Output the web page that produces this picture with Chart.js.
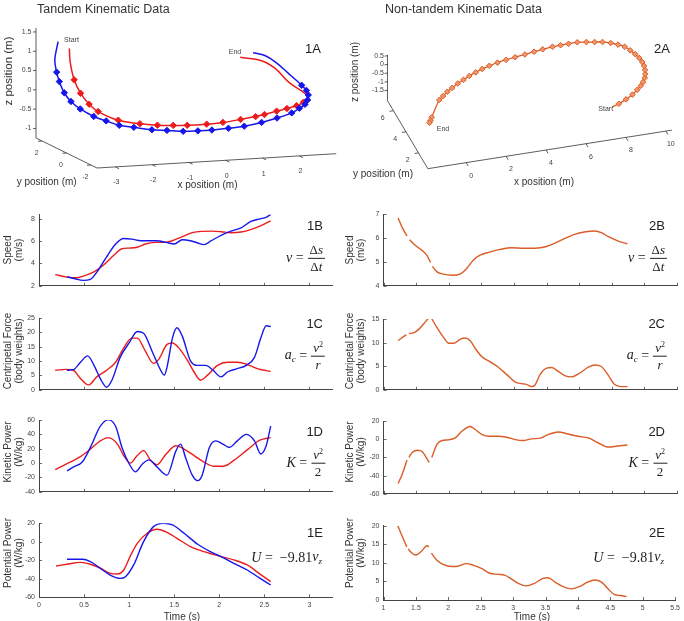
<!DOCTYPE html>
<html><head><meta charset="utf-8">
<script src="https://cdn.jsdelivr.net/npm/chart.js@4.4.1/dist/chart.umd.min.js"></script>
<style>
html,body{margin:0;padding:0;background:#fff;overflow:hidden;}
#fig{position:relative;width:684px;height:621px;overflow:hidden;font-family:"Liberation Sans",Arial,Helvetica,sans-serif;color:#222;}
#fig canvas{position:absolute;}
.t{position:absolute;white-space:nowrap;line-height:1;}
.title{font-size:12.5px;color:#333;}
.lab{font-size:13px;color:#222;}
.ax{font-size:10px;color:#333;}
.axz{font-size:11.5px;color:#333;}
.small{font-size:7px;color:#444;}
.yt{font-size:10px;color:#333;line-height:10.5px;text-align:center;}
.math{font-family:"Liberation Serif","DejaVu Serif",serif;font-size:14px;color:#222;display:flex;align-items:center;}
.frac{display:inline-flex;flex-direction:column;align-items:center;margin-left:4px;font-size:13px;line-height:1.05;}
.frac .n{border-bottom:1px solid #222;padding:0 2px 1px;}
.frac .d{padding-top:1px;}
</style></head>
<body><div id="fig"></div>
<script>
// ===================== DATA =====================
// --- Panel 1A: tandem 3D trajectories (m) ---
const tandemBlueX = [-3.33,-3.42,-3.37,-3.33,-3.23,-3.08,-2.86,-2.56,-2.29,-2.00,-1.67,-1.18,-0.77,-0.33,0.07,0.45,0.90,1.33,1.80,2.22,2.62,2.83,2.98,3.05,3.07,3.02,2.89,2.53,2.17,1.89,1.57];
const tandemBlueY = [1.2,1.2,1.2,1.1,1.0,0.9,0.8,0.6,0.4,0.2,0,0,0,0,0,0,0,0,0,0,0,0,0,0,0,0,0,0,0,0,0];
const tandemBlueZ = [1.44,0.97,0.65,0.42,0.14,-0.08,-0.27,-0.45,-0.55,-0.65,-0.69,-0.78,-0.82,-0.87,-0.88,-0.88,-0.86,-0.83,-0.76,-0.67,-0.56,-0.45,-0.36,-0.25,-0.12,0.0,0.14,0.47,0.79,0.97,1.06];
const tandemRedX = [-3.09,-3.07,-2.96,-2.82,-2.62,-2.44,-1.96,-1.44,-1.03,-0.60,-0.22,0.31,0.75,1.23,1.64,1.88,2.21,2.49,2.75,2.94,3.07,2.53,2.17,1.80,1.22];
const tandemRedY = [1.0,1.0,1.0,0.9,0.8,0.6,0.4,0.2,0,0,0,0,0,0,0,0,0,0,0,0,0,0,0,0,0];
const tandemRedZ = [1.28,0.94,0.46,0.12,-0.16,-0.33,-0.55,-0.64,-0.67,-0.70,-0.72,-0.72,-0.70,-0.65,-0.60,-0.56,-0.49,-0.44,-0.38,-0.30,-0.17,0.25,0.62,0.84,0.96];
// --- Panel 2A: non-tandem 3D trajectory (m) ---
const soloX = [7.36,7.75,8.20,8.63,8.98,9.26,9.47,9.67,9.80,9.91,9.98,10.0,9.98,9.90,9.78,9.63,9.39,9.10,8.76,8.40,8.03,7.61,7.18,6.78,6.37,5.86,5.41,4.92,4.40,3.95,3.51,3.08,2.70,2.34,1.98,1.64,1.31,0.96,0.67,0.39,0.14,-0.49,-0.61,-0.69];
const soloY = [0.63,0.83,1.13,1.47,1.83,2.15,2.46,2.81,3.15,3.53,3.91,4.28,4.69,5.09,5.50,5.90,6.19,6.45,6.66,6.78,6.91,7.03,7.05,7.05,7.04,6.97,6.91,6.81,6.72,6.72,6.69,6.63,6.56,6.44,6.32,6.17,6.02,5.82,5.66,5.43,5.25,4.45,4.26,4.16];
const soloZ = [-0.30,-0.31,-0.32,-0.33,-0.34,-0.35,-0.36,-0.37,-0.38,-0.39,-0.40,-0.41,-0.42,-0.43,-0.44,-0.45,-0.46,-0.47,-0.48,-0.49,-0.50,-0.51,-0.53,-0.54,-0.55,-0.56,-0.58,-0.59,-0.60,-0.67,-0.73,-0.80,-0.87,-0.93,-1.00,-1.07,-1.13,-1.20,-1.27,-1.33,-1.40,-1.80,-1.85,-1.90];

// --- 1B speed (m/s) ---
const speedRedT  = [0.18,0.31,0.42,0.49,0.61,0.72,0.83,0.92,1.0,1.09,1.18,1.28,1.39,1.48,1.59,1.70,1.81,1.91,2.02,2.13,2.24,2.33,2.45,2.57];
const speedRedV  = [3.0,2.78,2.72,2.87,3.24,3.88,4.74,5.32,5.38,5.46,5.75,5.89,5.89,6.04,6.41,6.76,6.88,6.90,6.85,6.76,6.82,6.99,7.34,7.83];
const speedBlueT = [0.31,0.40,0.49,0.57,0.66,0.75,0.85,0.94,1.03,1.13,1.22,1.31,1.41,1.50,1.59,1.68,1.76,1.83,1.91,2.02,2.13,2.24,2.35,2.45,2.52,2.57];
const speedBlueV = [2.81,2.63,2.49,2.58,3.44,4.60,5.75,6.24,6.18,6.04,6.04,6.04,5.89,5.75,6.13,6.04,5.84,5.69,6.04,6.53,6.90,7.19,7.77,8.0,8.14,8.40];
// --- 1C centripetal force (body weights) ---
const forceRedT  = [0.18,0.29,0.38,0.46,0.55,0.64,0.75,0.85,0.94,1.03,1.09,1.18,1.27,1.33,1.42,1.48,1.55,1.65,1.72,1.79,1.87,1.98,2.09,2.20,2.32,2.43,2.57];
const forceRedV  = [6.8,7.1,6.8,3.9,1.7,4.5,6.8,9.6,14.6,18.0,18.0,13.5,9.2,10.7,15.8,16.3,14.6,10.1,6.2,3.4,5.1,8.5,9.6,9.6,8.7,7.3,6.4];
const forceBlueT = [0.31,0.38,0.46,0.54,0.61,0.68,0.75,0.81,0.90,1.0,1.09,1.16,1.26,1.35,1.39,1.42,1.48,1.53,1.59,1.68,1.76,1.85,1.93,2.02,2.09,2.19,2.30,2.39,2.46,2.52,2.57];
const forceBlueV = [6.8,7.0,9.6,11.8,8.5,3.9,0.9,3.4,11.3,16.3,20.3,19.7,13.0,6.8,5.1,7.9,18.0,21.6,18.6,10.1,8.5,8.5,6.8,4.5,6.2,7.3,8.5,11.3,18.0,22.3,22.0];
// --- 1D kinetic power (W/kg) ---
const kinRedT  = [0.18,0.31,0.46,0.57,0.68,0.77,0.87,0.94,1.01,1.09,1.16,1.24,1.31,1.41,1.52,1.61,1.72,1.83,1.94,2.04,2.17,2.32,2.45,2.57];
const kinRedV  = [-9.1,-0.9,9.1,19.5,30.9,35.5,26.4,10.5,0,10.5,17.3,3.6,-2.3,12.7,24.1,19.5,10.5,1.4,-4.5,-4.5,4.5,19.5,31.8,35.5];
const kinBlueT = [0.31,0.38,0.48,0.57,0.68,0.77,0.85,0.92,1.0,1.07,1.15,1.22,1.31,1.42,1.52,1.57,1.63,1.70,1.76,1.81,1.89,1.96,2.04,2.11,2.20,2.30,2.39,2.46,2.52,2.57];
const kinBlueV = [-10.9,-5.5,1.4,21.8,51.4,60.5,51.4,21.8,-0.9,-12.3,-0.9,4.5,-5.5,-16.8,17.3,26.4,5.9,-16.8,-24.5,-16.8,21.8,30.9,26.4,21.8,30.9,40.0,30.9,12.7,24.1,51.4];
// --- 1E potential power (W/kg) ---
const potRedT  = [0.19,0.31,0.46,0.57,0.68,0.79,0.87,0.94,1.01,1.09,1.20,1.31,1.42,1.53,1.68,1.83,2.02,2.16,2.31,2.44,2.57];
const potRedV  = [-26.1,-24.3,-22.2,-24.3,-28.6,-34.1,-34.8,-30.5,-16.0,-1.6,9.2,13.5,10.3,3.8,-5.2,-10.6,-16.0,-19.6,-25.0,-34.1,-43.1];
const potBlueT = [0.31,0.48,0.57,0.68,0.79,0.90,0.96,1.05,1.16,1.27,1.38,1.48,1.61,1.76,1.90,2.02,2.16,2.31,2.44,2.57];
const potBlueV = [-18.9,-18.9,-21.4,-28.6,-35.9,-39.5,-37.7,-25.0,0.2,16.4,20.0,18.2,9.2,-2.7,-10.6,-16.0,-23.2,-30.5,-38.7,-46.7];
// --- 2B..2E non-tandem (null = missing samples) ---
const soloSpeedT = [1.225,1.29,1.36,1.38,1.40,1.49,1.59,1.67,1.72,1.735,1.75,1.82,1.90,2.05,2.18,2.28,2.38,2.48,2.63,2.79,2.96,3.14,3.32,3.50,3.63,3.78,3.93,4.08,4.24,4.34,4.44,4.59,4.74];
const soloSpeedV = [6.83,6.42,6.08,null,5.92,5.68,5.48,5.25,4.98,null,4.81,4.58,4.50,4.44,4.50,4.74,5.08,5.28,5.41,5.52,5.59,5.57,5.57,5.64,5.78,5.98,6.15,6.25,6.29,6.22,6.06,5.88,5.75];
const soloForceT = [1.225,1.29,1.35,1.37,1.39,1.46,1.54,1.63,1.69,1.715,1.74,1.82,1.92,2.0,2.08,2.18,2.25,2.33,2.41,2.51,2.63,2.76,2.89,3.02,3.12,3.19,3.27,3.32,3.40,3.50,3.58,3.68,3.78,3.88,4.01,4.14,4.24,4.34,4.44,4.54,4.64,4.74];
const soloForceV = [10.41,11.1,11.64,null,11.92,12.05,12.8,14.18,15.2,null,15.07,13.15,11.1,9.86,9.86,10.75,10.96,10.41,8.70,6.99,5.96,4.79,3.22,1.64,1.30,1.16,0.68,0.96,3.22,4.59,4.73,3.90,3.01,2.74,3.56,4.79,5.27,4.93,3.22,1.16,0.68,0.68];
const soloKinT = [1.225,1.29,1.36,1.375,1.39,1.44,1.52,1.59,1.67,1.70,1.72,1.74,1.82,1.90,2.0,2.10,2.20,2.33,2.41,2.51,2.63,2.76,2.89,3.02,3.14,3.27,3.42,3.52,3.68,3.83,3.98,4.14,4.29,4.44,4.59,4.74];
const soloKinV = [-48.6,-37.9,-22.9,null,-20,-14.6,-12.1,-13.6,-21.8,-25.4,null,-20,-5.7,-1.4,-0.7,1.4,8.6,13.9,10.4,5.0,3.2,3.2,2.1,-0.4,-1.4,0.4,1.4,5.0,7.9,5.7,3.2,1.4,-3.9,-8.6,-7.5,-6.4];
const soloPotT = [1.22,1.28,1.36,1.37,1.38,1.44,1.50,1.59,1.67,1.70,1.72,1.74,1.82,1.92,2.05,2.15,2.28,2.38,2.51,2.64,2.77,2.87,2.97,3.08,3.20,3.33,3.46,3.54,3.64,3.77,3.90,4.02,4.15,4.25,4.36,4.46,4.56,4.66,4.75];
const soloPotV = [20.0,17.5,14.3,null,13.7,12.6,12.1,13.2,14.6,14.3,null,12.6,10.8,9.6,9.0,9.1,9.8,9.4,8.5,7.2,6.9,6.7,5.7,4.5,3.8,4.5,5.8,6.0,4.9,3.6,3.0,3.6,4.8,5.4,4.9,3.1,1.5,1.2,0.9];

// tick values
const tandemTimeTicks = [0,0.5,1,1.5,2,2.5,3];
const soloTimeTicks = [1,1.5,2,2.5,3,3.5,4,4.5,5,5.5];

// ===================== STYLE / LAYOUT =====================
const BLUE = 'rgb(22,22,235)', RED = 'rgb(236,28,28)', ORANGE = 'rgb(218,92,38)';
const FONT = '"Liberation Sans", Arial, Helvetica, sans-serif';
const AXC = '#444';
const fig = document.getElementById('fig');

function addCanvas(left, top, w, h){
  const c = document.createElement('canvas');
  c.width = w; c.height = h;
  c.style.left = left+'px'; c.style.top = top+'px';
  c.style.width = w+'px'; c.style.height = h+'px';
  fig.appendChild(c); return c;
}
function addText(html, x, y, cls, anchor, rot){
  const d = document.createElement('div');
  d.className = 't ' + cls; d.innerHTML = html;
  d.style.left = x+'px'; d.style.top = y+'px';
  const tx = anchor==='right' ? '-100%' : anchor==='left' ? '0' : '-50%';
  d.style.transform = `translate(${tx},-50%)` + (rot ? ` rotate(${rot}deg)` : '');
  fig.appendChild(d); return d;
}

const inwardTicks = {
  id: 'inwardTicks',
  afterDraw(chart){
    const {ctx, chartArea: a, scales: {x, y}} = chart;
    ctx.save(); ctx.strokeStyle = AXC; ctx.lineWidth = 0.8; ctx.beginPath();
    x.ticks.forEach(t => { const p = Math.round(x.getPixelForValue(t.value)) + 0.5; ctx.moveTo(p, a.bottom); ctx.lineTo(p, a.bottom - 3); });
    y.ticks.forEach(t => { const p = Math.round(y.getPixelForValue(t.value)) + 0.5; ctx.moveTo(a.left, p); ctx.lineTo(a.left + 3, p); });
    ctx.stroke(); ctx.restore();
  }
};

function panel2D(cfg){
  const colLeft = cfg.col === 0 ? 0 : 342;
  const cTop = Math.floor(cfg.top) - 20;
  const padTop = cfg.top - cTop;
  const H = cfg.xLabels ? 22 : 6;
  const height = Math.ceil(cfg.bottom - cTop + H);
  const Hx = height - (cfg.bottom - cTop);
  const W = cfg.left - colLeft;
  const PR = colLeft + 342 - cfg.right;
  const canvas = addCanvas(colLeft, cTop, 342, height);
  const tickFont = {family: FONT, size: 7};
  new Chart(canvas, {
    type: 'scatter',
    data: { datasets: cfg.series.map(s => ({
      data: s.t.map((t, i) => ({x: t, y: s.v[i]})),
      borderColor: s.c, backgroundColor: s.c, borderWidth: 1.4,
      pointRadius: 0, showLine: true, cubicInterpolationMode: 'monotone', spanGaps: false
    }))},
    options: {
      responsive: false, animation: false, devicePixelRatio: 1,
      layout: {padding: {top: padTop, right: PR, left: 0, bottom: 0}},
      plugins: {legend: {display: false}, tooltip: {enabled: false}},
      scales: {
        x: {type: 'linear', position: 'bottom', min: cfg.xmin, max: cfg.xmax,
            afterFit: s => { s.height = Hx; },
            grid: {display: false, drawTicks: false},
            border: {display: true, color: AXC, width: 1},
            afterBuildTicks: s => { s.ticks = cfg.xticks.map(v => ({value: v})); },
            ticks: {autoSkip: false, maxRotation: 0, padding: 4, font: tickFont, color: '#444',
                    callback: v => cfg.xLabels ? String(v) : ''}},
        y: {type: 'linear', min: cfg.ymin, max: cfg.ymax,
            afterFit: s => { s.width = W; },
            grid: {display: false, drawTicks: false},
            border: {display: true, color: AXC, width: 1},
            ticks: {stepSize: cfg.ystep, includeBounds: false, autoSkip: false, padding: 4, font: tickFont, color: '#444',
                    callback: v => String(v)}}
      }
    },
    plugins: [inwardTicks]
  });
}

// ---------- 3D panels ----------
function makeProj(v){
  return (x, y, z) => [
    v.ox + (x - v.xmin)*v.ex[0] + (y - v.ymin)*v.ey[0] + (z - v.zmin)*v.ez[0],
    v.oy + (x - v.xmin)*v.ex[1] + (y - v.ymin)*v.ey[1] + (z - v.zmin)*v.ez[1]
  ];
}
function panel3D(view, datasets, ticks, offs){
  const proj = makeProj(view);
  const left = view.canvasLeft;
  const canvas = addCanvas(left, 0, 342, 200);
  const toXY = (X, Y, Z) => X.map((x, i) => { const p = proj(x, Y[i], Z[i]); return {x: p[0] - left, y: p[1]}; });
  const axesPlugin = {
    id: 'axes3d',
    beforeDatasetsDraw(chart){
      const {ctx} = chart; const sx = chart.scales.x, sy = chart.scales.y;
      const P = (x, y, z) => { const p = proj(x, y, z); return [sx.getPixelForValue(p[0] - left), sy.getPixelForValue(p[1])]; };
      const unit = (a, b) => { const dx = b[0]-a[0], dy = b[1]-a[1], L = Math.hypot(dx, dy); return [dx/L, dy/L]; };
      const {xmin, xmax, ymin, ymax, zmin, zmax} = view;
      ctx.save();
      ctx.strokeStyle = '#333'; ctx.lineWidth = 0.8; ctx.fillStyle = '#444';
      ctx.font = '7px ' + FONT;
      const line = (a, b) => { ctx.beginPath(); ctx.moveTo(a[0], a[1]); ctx.lineTo(b[0], b[1]); ctx.stroke(); };
      line(P(xmin, ymin, zmin), P(xmax, ymin, zmin));
      line(P(xmin, ymin, zmin), P(xmin, ymax, zmin));
      line(P(xmin, ymax, zmin), P(xmin, ymax, zmax));
      const dOutX = unit(P(0, ymax, zmin), P(0, ymin, zmin));
      const dOutY = unit(P(xmax, 0, zmin), P(xmin, 0, zmin));
      ctx.textAlign = 'center'; ctx.textBaseline = 'middle';
      ticks.x.forEach(v => { const p = P(v, ymin, zmin); line(p, [p[0]+dOutX[0]*4, p[1]+dOutX[1]*4]); ctx.fillText(String(v), p[0]+offs.x[0], p[1]+offs.x[1]); });
      ticks.y.forEach(v => { const p = P(xmin, v, zmin); line(p, [p[0]+dOutY[0]*4, p[1]+dOutY[1]*4]); ctx.fillText(String(v), p[0]+offs.y[0], p[1]+offs.y[1]); });
      ctx.textAlign = 'right';
      ticks.z.forEach(v => { const p = P(xmin, ymax, v); line(p, [p[0]+dOutY[0]*3, p[1]+dOutY[1]*3]); ctx.fillText(String(v), p[0]+offs.z[0], p[1]+offs.z[1]); });
      ctx.restore();
    }
  };
  new Chart(canvas, {
    type: 'scatter',
    data: { datasets: datasets.map(d => ({
      data: toXY(d.X, d.Y, d.Z),
      borderColor: d.c, backgroundColor: d.fill || d.c, borderWidth: d.lw || 1.5,
      pointBorderColor: d.c, pointBackgroundColor: d.fill || d.c, pointBorderWidth: 1,
      showLine: true, tension: 0.35, pointStyle: 'rectRot',
      pointRadius: ctx => (ctx.dataIndex >= d.mFrom && ctx.dataIndex <= d.mTo) ? d.r : 0,
      clip: false
    }))},
    options: {
      responsive: false, animation: false, devicePixelRatio: 1,
      layout: {padding: 0},
      plugins: {legend: {display: false}, tooltip: {enabled: false}},
      scales: {
        x: {type: 'linear', min: 0, max: 342, display: false},
        y: {type: 'linear', min: 0, max: 200, reverse: true, display: false}
      }
    },
    plugins: [axesPlugin]
  });
}

// 1A
panel3D(
  {canvasLeft: 0, ox: 97, oy: 168, xmin: -3.5, xmax: 3.0, ymin: -2.5, ymax: 2.5, zmin: -1.25, zmax: 1.6,
   ex: [36.8, -2.2], ey: [-12.2, -6.0], ez: [0, -38.6]},
  [{X: tandemBlueX, Y: tandemBlueY, Z: tandemBlueZ, c: BLUE, mFrom: 2, mTo: 26, r: 3.2},
   {X: tandemRedX, Y: tandemRedY, Z: tandemRedZ, c: RED, mFrom: 2, mTo: 19, r: 3.2}],
  {x: [-3,-2,-1,0,1,2], y: [-2,0,2], z: [-1,-0.5,0,0.5,1,1.5]},
  {x: [1, 15.5], y: [-5.5, 12.5], z: [-4.5, 0]}
);
// 2A
panel3D(
  {canvasLeft: 342, ox: 425.3, oy: 172.3, xmin: -1.92, xmax: 10.3, ymin: 0.5, ymax: 6.95, zmin: -2.1, zmax: 0.55,
   ex: [20.57, -3.32], ey: [-6.45, -11.1], ez: [0, -18.2]},
  [{X: soloX, Y: soloY, Z: soloZ, c: ORANGE, fill: 'rgb(240,150,105)', mFrom: 1, mTo: 43, r: 2.8, lw: 1.3}],
  {x: [0,2,4,6,8,10], y: [2,4,6], z: [-1.5,-1,-0.5,0,0.5]},
  {x: [4.9, 13], y: [-10.7, 6.9], z: [-3.5, 0]}
);

// 2D panels
const L = {col: 0, left: 39, right: 332, xmin: 0, xmax: 3.25, xticks: tandemTimeTicks};
const R = {col: 1, left: 383.5, right: 677, xmin: 1, xmax: 5.5, xticks: soloTimeTicks};
panel2D({...L, top: 214.4, bottom: 288, ymin: 2, ymax: 8.4, ystep: 2, series: [{t: speedBlueT, v: speedBlueV, c: BLUE}, {t: speedRedT, v: speedRedV, c: RED}]});
panel2D({...R, top: 214, bottom: 288, ymin: 4, ymax: 7, ystep: 1, series: [{t: soloSpeedT, v: soloSpeedV, c: ORANGE}]});
panel2D({...L, top: 318, bottom: 392, ymin: 0, ymax: 25, ystep: 5, series: [{t: forceBlueT, v: forceBlueV, c: BLUE}, {t: forceRedT, v: forceRedV, c: RED}]});
panel2D({...R, top: 319, bottom: 392, ymin: 0, ymax: 15, ystep: 5, series: [{t: soloForceT, v: soloForceV, c: ORANGE}]});
panel2D({...L, top: 420, bottom: 494, ymin: -40, ymax: 60, ystep: 20, series: [{t: kinBlueT, v: kinBlueV, c: BLUE}, {t: kinRedT, v: kinRedV, c: RED}]});
panel2D({...R, top: 421, bottom: 496, ymin: -60, ymax: 20, ystep: 20, series: [{t: soloKinT, v: soloKinV, c: ORANGE}]});
panel2D({...L, top: 523.3, bottom: 597.3, ymin: -60, ymax: 20, ystep: 20, xLabels: true, series: [{t: potBlueT, v: potBlueV, c: BLUE}, {t: potRedT, v: potRedV, c: RED}]});
panel2D({...R, top: 525.7, bottom: 600, ymin: 0, ymax: 20, ystep: 5, xLabels: true, series: [{t: soloPotT, v: soloPotV, c: ORANGE}]});

// ===================== TEXT =====================
addText('Tandem Kinematic Data', 37, 8.5, 'title', 'left');
addText('Non-tandem Kinematic Data', 385, 8.5, 'title', 'left');
addText('1A', 321, 48, 'lab', 'right');
addText('2A', 670, 48, 'lab', 'right');
addText('Start', 71.5, 39, 'small');
addText('End', 235, 51, 'small');
addText('Start', 605.7, 108.3, 'small');
addText('End', 443, 128.3, 'small');
addText('z position (m)', 8.5, 71, 'axz', 'center', -90);
addText('y position (m)', 46.7, 181.7, 'ax');
addText('x position (m)', 207.5, 185, 'ax');
addText('z position (m)', 355, 72, 'ax', 'center', -90);
addText('y position (m)', 383, 174, 'ax');
addText('x position (m)', 544, 181.7, 'ax');

const yTitles = [['Speed','(m/s)',250],['Centripetal Force','(body weights)',351],['Kinetic Power','(W/kg)',452],['Potential Power','(W/kg)',553]];
yTitles.forEach(([a,b,cy]) => {
  addText(a + '<br>' + b, 13.2, cy, 'yt', 'center', -90);
  addText(a + '<br>' + b, 355.2, cy, 'yt', 'center', -90);
});
addText('Time (s)', 182, 617, 'ax');
addText('Time (s)', 532, 617, 'ax');

const fB = '<i>v</i>&nbsp;=<span class="frac"><span class="n">Δ<i>s</i></span><span class="d">Δ<i>t</i></span></span>';
const fC = '<i>a<sub style="font-size:9px">c</sub></i>&nbsp;=<span class="frac"><span class="n"><i>v</i><sup style="font-size:8px">2</sup></span><span class="d"><i>r</i></span></span>';
const fD = '<i>K</i>&nbsp;=<span class="frac"><span class="n"><i>v</i><sup style="font-size:8px">2</sup></span><span class="d">2</span></span>';
const fE = '<i>U</i>&nbsp;=&nbsp;&nbsp;−9.81<i>v<sub style="font-size:9px">z</sub></i>';
[[0,325],[342,667]].forEach(([off, rx], k) => {
  const n = k === 0 ? '1' : '2';
  addText(n+'B', rx - 2, 225, 'lab', 'right');
  addText(n+'C', rx - 2, 323, 'lab', 'right');
  addText(n+'D', rx - 2, 431, 'lab', 'right');
  addText(n+'E', rx - 2, 532, 'lab', 'right');
  addText(fB, rx, 258, 'math', 'right');
  addText(fC, rx, 356, 'math', 'right');
  addText(fD, rx, 463, 'math', 'right');
  addText(fE, rx - 3, 558, 'math', 'right');
});
</script></body></html>
